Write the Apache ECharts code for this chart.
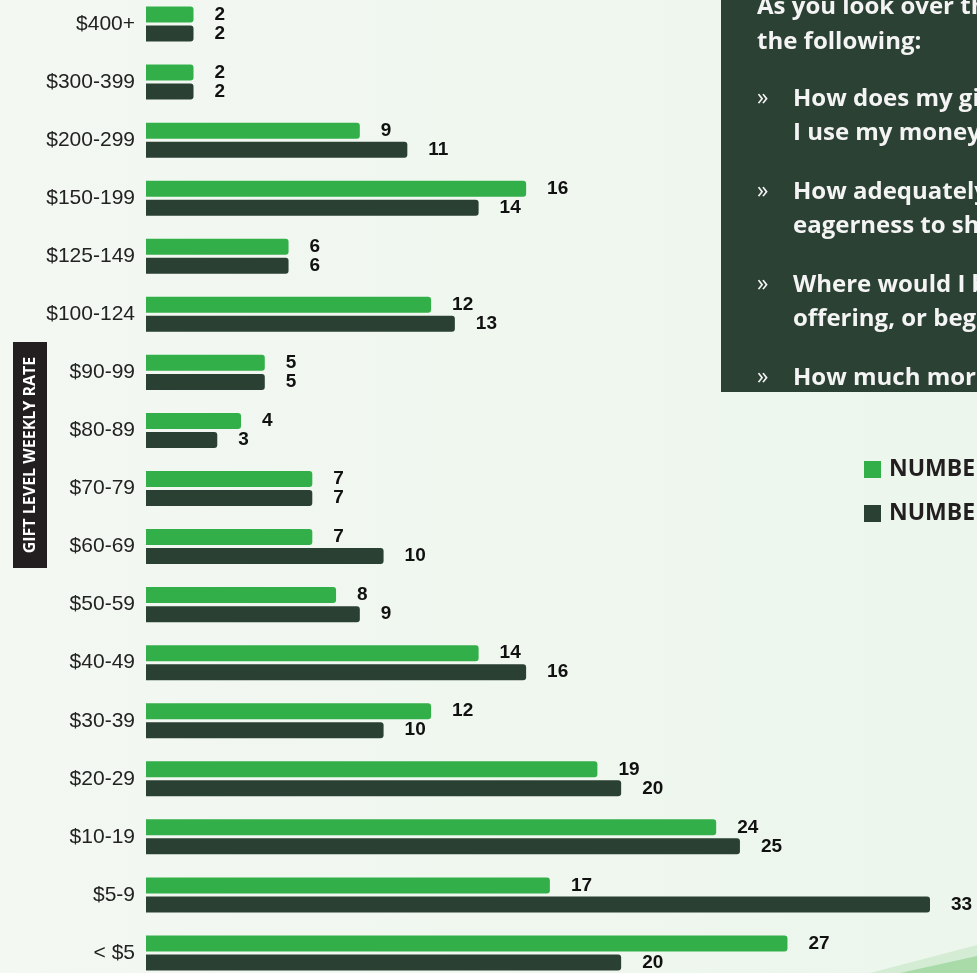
<!DOCTYPE html>
<html>
<head>
<meta charset="utf-8">
<script src="https://cdn.jsdelivr.net/npm/echarts@6/dist/echarts.min.js"></script>
<style>
  html, body { margin: 0; padding: 0; overflow: hidden; background: #f0f7ef; }
  /* chart is a bit taller than the window so the outer rows get a full band */
  #main { position: absolute; left: 0; top: -5px; width: 977px; height: 987px; }
</style>
</head>
<body>
<div id="main"></div>
<script>
// gift levels, listed top to bottom as in the picture
var giftLevels = ["$400+", "$300-399", "$200-299", "$150-199", "$125-149", "$100-124",
  "$90-99", "$80-89", "$70-79", "$60-69", "$50-59", "$40-49", "$30-39",
  "$20-29", "$10-19", "$5-9", "< $5"];
var seriesNames = ["NUMBER OF GIVING UNITS 2022", "NUMBER OF GIVING UNITS 2023"];
var lightValues = [2, 2, 9, 16, 6, 12, 5, 4, 7, 7, 8, 14, 12, 19, 24, 17, 27];
var darkValues = [2, 2, 11, 14, 6, 13, 5, 3, 7, 10, 9, 16, 10, 20, 25, 33, 20];
var axisTitle = "GIFT LEVEL WEEKLY RATE";
var boxLines = [
  "As you look over the results, ask yourself",
  "the following:"
];
var boxBullets = [
  ["How does my giving reflect the way", "I use my money?"],
  ["How adequately does my giving reflect my", "eagerness to share what I have?"],
  ["Where would I be able to increase my", "offering, or begin giving regularly?"],
  ["How much more could I give?"]
];

var lightGreen = "#33af4a";
var darkGreen = "#2a4032";
var shiftY = 5; // the chart div starts 5px above the window

var myChart = echarts.init(document.getElementById("main"));
var maxVal = Math.max.apply(null, lightValues.concat(darkValues));

// text box at the top right
var boxText = [];
var lineY = [5, 40];
boxLines.forEach(function (t, i) {
  boxText.push({
    type: "text", left: 757, top: lineY[i] - 10 + shiftY,
    style: { text: t, fill: "#f4f4f4", font: "bold 24px 'Open Sans'" }
  });
});
var bulletY = [97, 190, 283, 376];
boxBullets.forEach(function (b, i) {
  boxText.push({
    type: "text", left: 757, top: bulletY[i] - 10 + shiftY,
    style: { text: "»", fill: "#f4f4f4", font: "23px 'Open Sans'" }
  });
  b.forEach(function (t, j) {
    boxText.push({
      type: "text", left: 793, top: bulletY[i] + j * 34 - 10 + shiftY,
      style: { text: t, fill: "#f4f4f4", font: "bold 24px 'Open Sans'" }
    });
  });
});

var option = {
  backgroundColor: {
    type: "linear", x: 0, y: 0, x2: 1, y2: 0,
    colorStops: [
      { offset: 0, color: "#f3f8f2" },
      { offset: 1, color: "#ecf6ec" }
    ]
  },
  animation: false,
  grid: { left: 146, right: 47, top: 0, bottom: 0 },
  legend: {
    orient: "vertical",
    left: 864,
    top: 458 + shiftY,
    padding: 0,
    itemWidth: 17,
    itemHeight: 17,
    itemGap: 21,
    icon: "rect",
    textStyle: {
      color: "#231f20",
      fontSize: 23,
      fontWeight: "bold",
      fontFamily: "Open Sans",
      lineHeight: 17,
      padding: [0, 0, 0, 3]
    },
    data: seriesNames
  },
  xAxis: {
    type: "value",
    min: 0,
    max: maxVal,
    show: false
  },
  yAxis: {
    type: "category",
    inverse: true,
    data: giftLevels,
    axisLine: { show: false },
    axisTick: { show: false },
    splitLine: { show: false },
    axisLabel: {
      color: "#222",
      fontSize: 21,
      fontFamily: "Liberation Sans",
      margin: 11
    }
  },
  series: [
    {
      name: seriesNames[0],
      type: "bar",
      data: lightValues,
      barWidth: 16,
      barGap: "19%",
      itemStyle: { color: lightGreen, borderRadius: [0, 3, 3, 0] },
      label: {
        show: true, position: "right", distance: 21,
        color: "#111", fontSize: 19, fontWeight: "bold", fontFamily: "Liberation Sans"
      }
    },
    {
      name: seriesNames[1],
      type: "bar",
      data: darkValues,
      barWidth: 16,
      itemStyle: { color: darkGreen, borderRadius: [0, 3, 3, 0] },
      label: {
        show: true, position: "right", distance: 21,
        color: "#111", fontSize: 19, fontWeight: "bold", fontFamily: "Liberation Sans"
      }
    }
  ],
  graphic: [
    {
      type: "polygon", silent: true, z: -1,
      shape: { points: [[870, 973 + shiftY], [977, 945 + shiftY], [977, 973 + shiftY]] },
      style: { fill: "#d4ecd3" }
    },
    {
      type: "polygon", silent: true, z: -1,
      shape: { points: [[900, 973 + shiftY], [977, 956 + shiftY], [977, 973 + shiftY]] },
      style: { fill: "#a8dba8" }
    },
    {
      type: "rect", left: 721, top: 0,
      shape: { width: 256, height: 392 + shiftY },
      style: { fill: "#2b4134" }
    }
  ].concat(boxText).concat([
    {
      type: "rect", left: 13, top: 342 + shiftY,
      shape: { width: 34, height: 226 },
      style: { fill: "#231f20" }
    },
    {
      type: "text", x: 30, y: 455 + shiftY, rotation: Math.PI / 2,
      style: {
        text: axisTitle, fill: "#fff", font: "bold 16px 'Open Sans'",
        align: "center", verticalAlign: "middle"
      }
    }
  ])
};

myChart.setOption(option);
window.addEventListener("resize", function () {
  myChart.resize();
});
</script>
</body>
</html>
